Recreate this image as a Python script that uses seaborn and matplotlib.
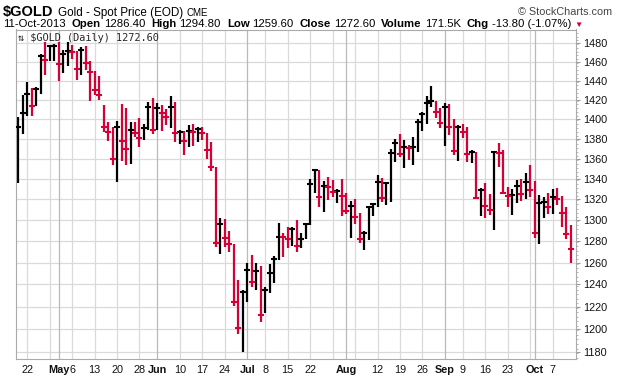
import numpy as np
import pandas as pd
import seaborn as sns
import matplotlib.pyplot as plt
from matplotlib.ticker import FixedLocator, FuncFormatter, NullFormatter

W, H = 620, 376

# daily high / low / close for $GOLD, 18-Apr-2013 .. 11-Oct-2013
highs = [1401.8, 1425.2, 1438.5, 1432.2, 1433.0, 1468.5, 1481.4, 1478.5, 1479.2, 1481.4,
         1472.8, 1481.0, 1477.8, 1471.4, 1476.0, 1476.8, 1461.3, 1450.0, 1444.6, 1414.8,
         1397.0, 1392.1, 1397.7, 1415.5, 1411.4, 1397.0, 1397.0, 1400.7, 1394.8, 1417.3,
         1421.5, 1416.3, 1414.5, 1410.1, 1424.0, 1417.6, 1388.8, 1387.8, 1393.9, 1394.8,
         1391.8, 1391.8, 1386.2, 1376.6, 1351.6, 1301.7, 1300.7, 1289.5, 1277.3, 1244.0,
         1234.8, 1259.4, 1266.9, 1259.4, 1256.9, 1237.6, 1258.4, 1265.9, 1297.0, 1287.3,
         1292.9, 1292.9, 1300.0, 1287.3, 1297.3, 1339.4, 1349.3, 1348.6, 1337.7, 1341.4,
         1338.7, 1329.7, 1339.4, 1325.7, 1318.3, 1320.2, 1307.1, 1289.8, 1313.8, 1316.4,
         1343.6, 1341.0, 1337.2, 1369.3, 1379.3, 1384.7, 1378.6, 1373.7, 1381.6, 1399.7,
         1407.0, 1424.0, 1434.3, 1418.9, 1411.4, 1417.0, 1415.2, 1399.7, 1394.2, 1394.8,
         1391.5, 1368.3, 1366.6, 1330.6, 1335.5, 1325.0, 1367.6, 1375.9, 1368.6, 1332.2,
         1329.7, 1338.7, 1339.4, 1345.9, 1353.6, 1337.7, 1323.8, 1322.4, 1325.7, 1329.7,
         1330.7, 1323.1, 1312.8, 1294.8]
lows = [1335.5, 1384.7, 1403.4, 1403.4, 1413.5, 1426.3, 1446.3, 1460.6, 1460.6, 1439.3,
        1447.8, 1455.3, 1463.4, 1440.3, 1446.3, 1451.6, 1418.3, 1425.2, 1420.0, 1386.9,
        1377.3, 1353.3, 1336.4, 1357.7, 1353.3, 1354.9, 1381.3, 1372.0, 1378.6, 1388.5,
        1384.2, 1388.5, 1388.1, 1393.9, 1390.8, 1376.6, 1374.9, 1363.9, 1372.0, 1373.0,
        1376.6, 1378.6, 1359.8, 1347.9, 1274.7, 1268.2, 1274.7, 1269.8, 1220.8, 1196.0,
        1179.8, 1223.9, 1237.6, 1234.8, 1206.5, 1214.0, 1231.8, 1241.4, 1262.4, 1265.2,
        1273.2, 1275.5, 1270.2, 1273.7, 1281.7, 1294.9, 1325.7, 1312.2, 1308.1, 1319.2,
        1322.4, 1316.0, 1304.2, 1305.6, 1282.8, 1296.4, 1278.0, 1271.8, 1281.5, 1303.6,
        1312.8, 1317.6, 1314.7, 1317.6, 1356.8, 1361.8, 1350.9, 1358.8, 1353.6, 1367.0,
        1388.1, 1394.5, 1412.8, 1401.3, 1391.1, 1373.0, 1383.9, 1363.7, 1357.7, 1380.9,
        1356.8, 1355.8, 1319.9, 1303.9, 1302.2, 1304.9, 1290.1, 1351.3, 1324.7, 1312.8,
        1304.9, 1316.0, 1318.5, 1319.9, 1321.8, 1282.8, 1277.0, 1301.6, 1305.9, 1305.9,
        1314.3, 1293.5, 1281.7, 1259.6]
closes = [1391.8, 1406.2, 1426.3, 1413.8, 1431.2, 1466.7, 1462.4, 1476.8, 1477.3, 1457.7,
          1468.5, 1471.4, 1470.7, 1452.3, 1473.1, 1458.8, 1448.9, 1430.5, 1425.2, 1391.8,
          1386.6, 1359.6, 1391.5, 1377.3, 1370.0, 1389.1, 1386.2, 1380.9, 1391.1, 1412.8,
          1389.1, 1411.8, 1406.0, 1402.4, 1412.8, 1385.6, 1386.6, 1377.9, 1388.1, 1387.1,
          1389.5, 1385.2, 1369.0, 1351.6, 1278.5, 1296.4, 1283.3, 1277.0, 1224.4, 1201.2,
          1232.8, 1252.9, 1242.4, 1251.9, 1212.8, 1235.3, 1250.1, 1263.8, 1284.3, 1283.7,
          1282.4, 1291.1, 1275.5, 1282.4, 1296.1, 1334.5, 1348.6, 1322.4, 1333.2, 1332.2,
          1326.7, 1328.3, 1323.4, 1308.7, 1313.8, 1303.2, 1282.4, 1287.9, 1312.8, 1315.1,
          1336.9, 1321.2, 1336.2, 1365.7, 1375.5, 1364.7, 1371.4, 1370.5, 1371.5, 1397.0,
          1405.6, 1416.3, 1418.8, 1407.6, 1396.2, 1412.8, 1392.1, 1367.7, 1391.8, 1387.1,
          1364.4, 1366.3, 1321.2, 1329.0, 1313.8, 1309.9, 1366.8, 1365.8, 1326.3, 1323.0,
          1323.6, 1333.2, 1324.7, 1337.2, 1329.0, 1287.8, 1316.6, 1317.0, 1312.3, 1322.4,
          1319.9, 1307.0, 1286.4, 1272.6]

holidays = ["2013-05-27", "2013-07-04", "2013-09-02"]
tick_dates = ["2013-04-22", "2013-05-01", "2013-05-06", "2013-05-13", "2013-05-20", "2013-05-28",
              "2013-06-03", "2013-06-10", "2013-06-17", "2013-06-24", "2013-07-01", "2013-07-08",
              "2013-07-15", "2013-07-22", "2013-08-01", "2013-08-12", "2013-08-19", "2013-08-26",
              "2013-09-03", "2013-09-09", "2013-09-16", "2013-09-23", "2013-10-01", "2013-10-07"]
tick_labels = ["22", "May", "6", "13", "20", "28", "Jun", "10", "17", "24", "Jul", "8",
               "15", "22", "Aug", "12", "19", "26", "Sep", "9", "16", "23", "Oct", "7"]
month_labels = ["May", "Jun", "Jul", "Aug", "Sep", "Oct"]
extra_week_lines = ["2013-04-29", "2013-07-29", "2013-08-05", "2013-09-30"]
price_ticks = list(range(1180, 1481, 20))

RED = "#d60036"

dates = pd.bdate_range("2013-04-18", "2013-10-11")
dates = dates[~dates.isin(pd.to_datetime(holidays))]
df = pd.DataFrame({"date": dates, "high": highs, "low": lows, "close": closes})
df["x"] = np.arange(len(df))
df["up"] = df["close"].diff().fillna(1) >= 0

sns.set_style("white")
plt.rcParams["font.family"] = ["Liberation Sans", "DejaVu Sans"]

fig = plt.figure(figsize=(W / 100, H / 100), dpi=100)
ax = fig.add_axes([16 / W, 1 - 359 / H, (576 - 16) / W, (359 - 29.5) / H])
ax.set_yscale("log")

# grid
tick_pos = dates.get_indexer(pd.to_datetime(tick_dates))
extra_pos = dates.get_indexer(pd.to_datetime(extra_week_lines))
for p in price_ticks:
    ax.axhline(p, color="#dadada", lw=0.9, zorder=0)
for p, lab in zip(tick_pos, tick_labels):
    ax.axvline(p, color="#b9b9b9" if lab in month_labels else "#dadada", lw=0.9, zorder=0)
for p in extra_pos:
    ax.axvline(p, color="#dadada", lw=0.9, zorder=0)

# high-low bars
colors = np.where(df["up"], "black", RED)
ax.vlines(df["x"], df["low"], df["high"], colors=colors, lw=1.6, zorder=2)

# close ticks
sns.scatterplot(data=df[df["up"]], x="x", y="close", marker="_", s=22, color="black",
                linewidth=1.5, ax=ax, zorder=3, legend=False)
sns.scatterplot(data=df[~df["up"]], x="x", y="close", marker="_", s=22, color=RED,
                linewidth=1.5, ax=ax, zorder=3, legend=False)

ax.set_xlim(-0.5, 124.2)
ax.set_ylim(1174, 1495)
ax.set_xlabel("")
ax.set_ylabel("")

ax.yaxis.tick_right()
ax.yaxis.set_major_locator(FixedLocator(price_ticks))
ax.yaxis.set_major_formatter(FuncFormatter(lambda v, p: f"{v:.0f}"))
ax.yaxis.set_minor_locator(FixedLocator(list(range(1175, 1495, 4))))
ax.yaxis.set_minor_formatter(NullFormatter())
ax.tick_params(axis="y", which="major", length=3, width=0.8, color="#999999",
               labelsize=7.8, pad=2, labelcolor="#111111")
ax.tick_params(axis="y", which="minor", length=1.5, width=0.6, color="#aaaaaa")

ax.set_xticks(tick_pos)
ax.set_xticklabels(tick_labels)
ax.xaxis.set_minor_locator(FixedLocator(df["x"].tolist()))
ax.tick_params(axis="x", which="major", length=0, labelsize=7.8, pad=4, labelcolor="#111111")
ax.tick_params(axis="x", which="minor", length=1.5, width=0.6, color="#aaaaaa")
for t in ax.get_xticklabels():
    if t.get_text() in month_labels:
        t.set_fontweight("bold")

for s in ax.spines.values():
    s.set_color("#aaaaaa")
    s.set_linewidth(0.8)

ax.text(0.004, 0.988, "\u21c5 $GOLD (Daily) 1272.60", transform=ax.transAxes,
        family=["DejaVu Sans Mono", "DejaVu Sans"], fontsize=7.4, va="top", ha="left")

# header rows
renderer = fig.canvas.get_renderer()


def text_row(x, y, parts):
    for s, size, weight, color, gap in parts:
        t = fig.text(x / W, 1 - y / H, s, fontsize=size, fontweight=weight, color=color,
                     va="baseline", ha="left")
        x = t.get_window_extent(renderer).x1 + gap


text_row(3, 16, [("$GOLD", 10.5, "bold", "black", 4),
                 ("Gold - Spot Price (EOD)", 8.4, "normal", "black", 4),
                 ("CME", 7, "normal", "black", 0)])
fig.text(612 / W, 1 - 15 / H, "\u00a9 StockCharts.com", fontsize=7.8, color="#444444",
         ha="right", va="baseline")
fs = 8.2
text_row(3, 27, [("11-Oct-2013", fs, "normal", "black", 6),
                 ("Open", fs, "bold", "black", 3), ("1286.40", fs, "normal", "black", 6),
                 ("High", fs, "bold", "black", 3), ("1294.80", fs, "normal", "black", 6),
                 ("Low", fs, "bold", "black", 3), ("1259.60", fs, "normal", "black", 6),
                 ("Close", fs, "bold", "black", 3), ("1272.60", fs, "normal", "black", 6),
                 ("Volume", fs, "bold", "black", 3), ("171.5K", fs, "normal", "black", 6),
                 ("Chg", fs, "bold", "black", 3), ("-13.80 (-1.07%)", fs, "normal", "black", 3),
                 ("\u25bc", 6, "normal", RED, 0)])

fig.savefig("out.png", dpi=100)
